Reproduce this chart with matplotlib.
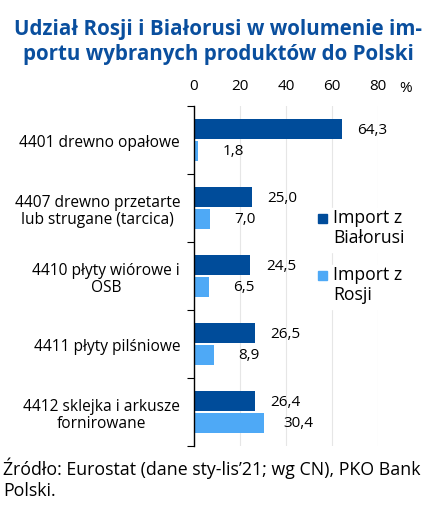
import matplotlib
matplotlib.use("Agg")
from matplotlib import pyplot as plt
from matplotlib.patches import Rectangle
import numpy as np

categories = [
    "4401 drewno opałowe",
    "4407 drewno przetarte\nlub strugane (tarcica)",
    "4410 płyty wiórowe i\nOSB",
    "4411 płyty pilśniowe",
    "4412 sklejka i arkusze\nfornirowane",
]
belarus = [64.3, 25.0, 24.5, 26.5, 26.4]
russia = [1.8, 7.0, 6.5, 8.9, 30.4]
series_names = ["Import z\nBiałorusi", "Import z\nRosji"]
x_ticks = [0, 20, 40, 60, 80]

dark_blue = "#004c9a"
light_blue = "#4ea9f6"
title_blue = "#0a4f9e"

plt.rcParams["font.family"] = ["Open Sans", "DejaVu Sans"]

W, H = 444, 510
fig = plt.figure(figsize = (4.44, 5.10), dpi = 100)
ax = fig.add_axes([194 / W, 1 - 447 / H, 184 / W, 340 / H])

y = np.arange(len(categories))
h = 0.29
ax.barh(y - 0.16, belarus, height = h, color = dark_blue, zorder = 2)
ax.barh(y + 0.16, russia, height = h, color = light_blue, zorder = 2)

for yi, v in zip(y, belarus):
    ax.annotate(f"{v:.1f}".replace(".", ","), (v, yi - 0.16), xytext = (22, 0),
                textcoords = "offset points", ha = "center", va = "center", fontsize = 11)
for yi, v in zip(y, russia):
    ax.annotate(f"{v:.1f}".replace(".", ","), (v, yi + 0.16), xytext = (25, 0),
                textcoords = "offset points", ha = "center", va = "center", fontsize = 11)

ax.set_xlim(0, 80)
ax.set_ylim(len(categories) - 0.5, -0.5)
ax.xaxis.tick_top()
ax.set_xticks(x_ticks)
ax.tick_params(axis = "x", length = 0, labelsize = 11, pad = 9)
ax.grid(axis = "x", color = "#e6e6e6", linewidth = 0.8, zorder = 0)

ax.set_yticks(y)
ax.set_yticklabels(categories, fontsize = 11.2, multialignment = "center", linespacing = 1.1)
ax.tick_params(axis = "y", which = "major", length = 0, pad = 10)
ax.set_yticks(np.arange(len(categories) + 1) - 0.5, minor = True)
ax.tick_params(axis = "y", which = "minor", length = 5, width = 0.8, direction = "out")

for side in ["top", "right", "bottom"]:
    ax.spines[side].set_visible(False)
ax.spines["left"].set_linewidth(1.0)

fig.text(406 / W, 1 - 88 / H, "%", fontsize = 11, ha = "center", va = "center")

# legend drawn by hand: square next to the first line of each label
legend_colors = [dark_blue, light_blue]
legend_tops = [215, 272]
for name, color, top in zip(series_names, legend_colors, legend_tops):
    fig.patches.append(Rectangle((318 / W, 1 - (top + 9) / H), 9 / W, 9 / H,
                                 transform = fig.transFigure, color = color, zorder = 5))
    fig.patches.append(Rectangle((314 / W, 1 - (top + 38) / H), 100 / W, 44 / H,
                                 transform = fig.transFigure, color = "white", zorder = 3))
    fig.text(333 / W, 1 - (top - 6) / H, name, fontsize = 12.7, ha = "left", va = "top",
             linespacing = 1.15, zorder = 6)

fig.text(218 / W, 1 - 42 / H, "Udział Rosji i Białorusi w wolumenie im-\nportu wybranych produktów do Polski",
         fontsize = 14.8, fontweight = "bold", color = title_blue, ha = "center", va = "center",
         linespacing = 1.3)

fig.text(3 / W, 1 - 479 / H, "Źródło: Eurostat (dane sty-lis’21; wg CN), PKO Bank\nPolski.",
         fontsize = 12.8, ha = "left", va = "center", linespacing = 1.2)

fig.savefig("out.png", dpi = 100)
